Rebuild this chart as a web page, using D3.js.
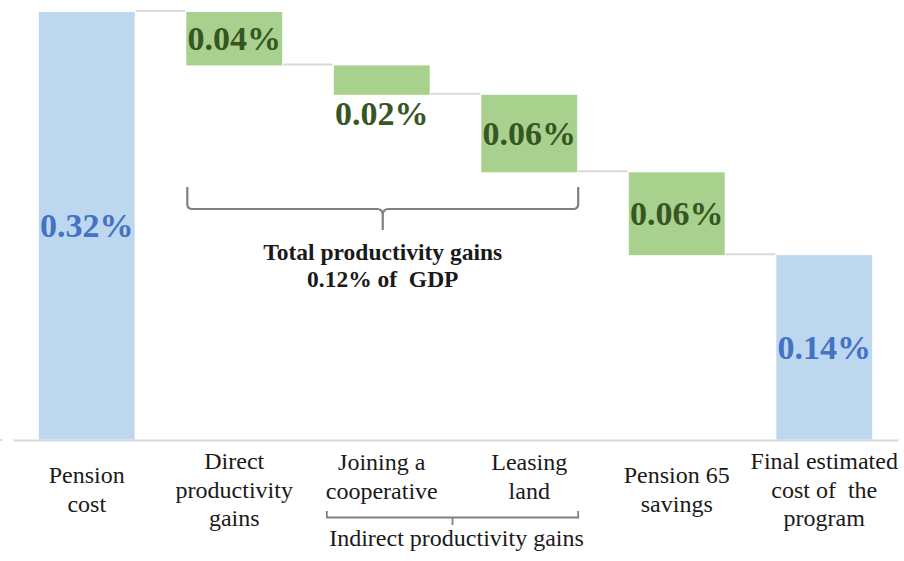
<!DOCTYPE html>
<html>
<head>
<meta charset="utf-8">
<script src="https://cdn.jsdelivr.net/npm/d3@7"></script>
<style>
  html, body { margin: 0; padding: 0; background: #fff; }
  svg { display: block; }
  svg text { font-family: "Liberation Serif", "DejaVu Serif", serif; }
</style>
</head>
<body>
<svg id="chart" width="904" height="561"></svg>
<script>
// Waterfall: pension cost, productivity gains and savings, final cost (% of GDP)
const categories = [
  "Pension cost",
  "Direct productivity gains",
  "Joining a cooperative",
  "Leasing land",
  "Pension 65 savings",
  "Final estimated cost of the program"
];
const categoryLines = [
  ["Pension", "cost"],
  ["Direct", "productivity", "gains"],
  ["Joining a", "cooperative"],
  ["Leasing", "land"],
  ["Pension 65", "savings"],
  ["Final estimated", "cost of  the", "program"]
];
// "total" bars start at zero, "step" bars subtract from the running level
const kinds = ["total", "step", "step", "step", "step", "total"];
const values = [0.32, 0.04, 0.022, 0.058, 0.062, 0.138];
// categories grouped under the lower bracket
const indirectGroup = ["Joining a cooperative", "Leasing land"];
// categories summed in the upper brace
const productivityGroup = ["Direct productivity gains", "Joining a cooperative", "Leasing land"];

const FONT = '"Liberation Serif", "DejaVu Serif", serif';
const colors = {
  totalFill: "#BDD7EE", totalText: "#4472C4",
  stepFill: "#A9D18E", stepText: "#375623",
  connector: "#D9D9D9", axis: "#D9D9D9",
  bracket: "#808080", label: "#1a1a1a"
};

const svg = d3.select("#chart");
const baseY = 439.5;

const x = d3.scaleBand()
  .domain(categories)
  .range([13, 898])
  .paddingInner(0.35)
  .paddingOuter(0.175);

const y = d3.scaleLinear()
  .domain([0, 0.32])
  .range([baseY, 12]);

// Build waterfall segments
let level = 0;
const segs = categories.map((c, i) => {
  let lo, hi;
  if (kinds[i] === "total") { lo = 0; hi = values[i]; level = values[i]; }
  else { hi = level; lo = level - values[i]; level = lo; }
  return { cat: c, kind: kinds[i], value: values[i], lo, hi, end: kinds[i] === "total" ? hi : lo };
});

const fmt = v => d3.format(".2f")(v) + "%";

// Axis line
const axisG = svg.append("g")
  .attr("transform", `translate(0,${baseY + 0.5})`)
  .call(d3.axisBottom(x).tickSize(0).tickFormat(""));
axisG.select(".domain").attr("stroke", colors.axis).attr("stroke-width", 2);
svg.append("line")
  .attr("x1", 0).attr("x2", 2)
  .attr("y1", baseY + 0.5).attr("y2", baseY + 0.5)
  .attr("stroke", colors.axis).attr("stroke-width", 2);

// Connectors between consecutive bars
for (let i = 0; i < segs.length - 1; i++) {
  const lv = segs[i].end;
  svg.append("line")
    .attr("x1", x(segs[i].cat) + x.bandwidth() + 1)
    .attr("x2", x(segs[i + 1].cat) - 1)
    .attr("y1", y(lv) - 1).attr("y2", y(lv) - 1)
    .attr("stroke", colors.connector).attr("stroke-width", 2);
}

// Bars
svg.append("g").selectAll("rect")
  .data(segs)
  .join("rect")
  .attr("x", d => x(d.cat))
  .attr("width", x.bandwidth())
  .attr("y", d => y(d.hi))
  .attr("height", d => y(d.lo) - y(d.hi))
  .attr("fill", d => d.kind === "total" ? colors.totalFill : colors.stepFill);

// Value labels: centered in the bar, or below it if the bar is too short
svg.append("g").selectAll("text")
  .data(segs)
  .join("text")
  .attr("x", d => x(d.cat) + x.bandwidth() / 2)
  .attr("y", d => {
    const top = y(d.hi), bot = y(d.lo);
    return (bot - top) < 35 ? bot + 19 : (top + bot) / 2;
  })
  .attr("text-anchor", "middle")
  .attr("dominant-baseline", "central")
  .attr("font-family", FONT)
  .attr("font-size", 34)
  .attr("font-weight", "bold")
  .attr("fill", d => d.kind === "total" ? colors.totalText : colors.stepText)
  .text(d => fmt(d.value));

// Category labels
const lineH = 28.5;
categories.forEach((c, i) => {
  const lines = categoryLines[i];
  const grouped = indirectGroup.includes(c);
  const first = grouped ? 470 : 497.5 - (lines.length - 1) * lineH / 2;
  const t = svg.append("text")
    .attr("text-anchor", "middle")
    .attr("font-family", FONT)
    .attr("font-size", 24)
    .attr("fill", colors.label);
  lines.forEach((ln, k) => {
    t.append("tspan")
      .attr("x", x(c) + x.bandwidth() / 2)
      .attr("y", first + k * lineH)
      .attr("xml:space", "preserve")
      .text(ln);
  });
});

// Lower bracket for indirect gains
{
  const l = x(indirectGroup[0]) - 7;
  const r = x(indirectGroup[indirectGroup.length - 1]) + x.bandwidth() + 1;
  const m = (l + r) / 2;
  const hy = 517.5;
  svg.append("path")
    .attr("d", `M${l},511 L${l},${hy} L${r},${hy} L${r},511 M${m},${hy} L${m},525`)
    .attr("fill", "none").attr("stroke", colors.bracket).attr("stroke-width", 1.8);
  svg.append("text")
    .attr("x", m + 4).attr("y", 546)
    .attr("text-anchor", "middle")
    .attr("font-family", FONT)
    .attr("font-size", 24)
    .attr("fill", colors.label)
    .text("Indirect productivity gains");
}

// Upper brace summing productivity gains
{
  const l = x(productivityGroup[0]) + 1;
  const r = x(productivityGroup[productivityGroup.length - 1]) + x.bandwidth() + 1;
  const m = (l + r) / 2;
  const top = 187, hy = 209, tip = 230;
  svg.append("path")
    .attr("d",
      `M${l},${top} L${l},${hy - 5} Q${l},${hy} ${l + 5},${hy} L${m - 6},${hy} Q${m},${hy} ${m},${hy + 6} L${m},${tip}` +
      ` M${m},${hy + 6} Q${m},${hy} ${m + 6},${hy} L${r - 5},${hy} Q${r},${hy} ${r},${hy - 5} L${r},${top}`)
    .attr("fill", "none").attr("stroke", colors.bracket).attr("stroke-width", 2.2);
  const total = d3.sum(segs.filter(s => productivityGroup.includes(s.cat)), s => s.value);
  const t = svg.append("text")
    .attr("text-anchor", "middle")
    .attr("font-family", FONT)
    .attr("font-size", 23.5)
    .attr("font-weight", "bold")
    .attr("fill", colors.label);
  t.append("tspan").attr("x", m).attr("y", 260).text("Total productivity gains");
  t.append("tspan").attr("x", m).attr("y", 287).attr("xml:space", "preserve").text(fmt(total) + " of  GDP");
}
</script>
</body>
</html>
